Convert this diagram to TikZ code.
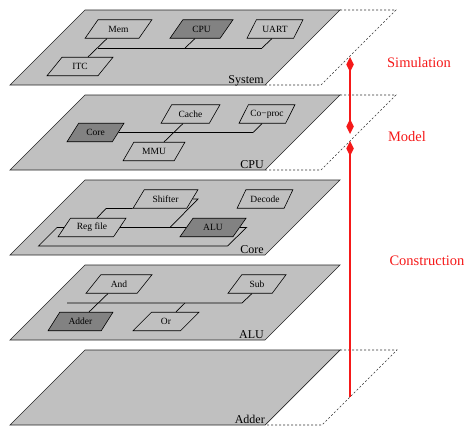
\documentclass[tikz,border=0pt]{standalone}
\usepackage{fontspec}
\setmainfont{Liberation Serif}
\usetikzlibrary{shapes.geometric,arrows.meta,calc}
\definecolor{planefill}{RGB}{192,192,192}
\definecolor{darkfill}{RGB}{130,130,130}
\definecolor{arrowred}{RGB}{245,25,25}
\newcommand{\compfont}{\fontsize{9.5}{11}\selectfont}
\tikzset{
  plane/.style={fill=planefill, draw=black!85, line width=0.7pt, line join=miter},
  ext/.style={draw=black!80, line width=0.6pt, dash pattern=on 2pt off 2pt},
  comp/.style={trapezium, trapezium left angle=45, trapezium right angle=135,
    trapezium stretches=true, draw=black, line width=0.6pt, inner sep=0pt,
    minimum height=18.5pt, font=\compfont},
  darkcomp/.style={comp, fill=darkfill},
  wire/.style={draw=black, line width=0.7pt},
  planelabel/.style={font=\fontsize{12}{14}\selectfont, inner sep=0pt, anchor=base east},
  redlabel/.style={font=\fontsize{14.5}{17}\selectfont, text=arrowred, inner sep=0pt, anchor=base},
  redarrow/.style={draw=arrowred, line width=1.8pt},
}
\begin{document}
\begin{tikzpicture}[x=1pt,y=-1pt]
\useasboundingbox (0,0) rectangle (469,439);
% ---------- planes ----------
\filldraw[plane] (85,10) -- (340,10) -- (265,85) -- (10,85) -- cycle;
\filldraw[plane] (85,95) -- (340,95) -- (265,170) -- (10,170) -- cycle;
\filldraw[plane] (85,180) -- (340,180) -- (265,255) -- (10,255) -- cycle;
\filldraw[plane] (85,265) -- (340,265) -- (265,340) -- (10,340) -- cycle;
\filldraw[plane] (85,350) -- (340,350) -- (265,425) -- (10,425) -- cycle;
% dashed extensions
\draw[ext] (340,10) -- (396,10) -- (321,85) -- (265,85);
\draw[ext] (340,95) -- (396,95) -- (321,170) -- (265,170);
\draw[ext] (340,350) -- (397,350) -- (322,425) -- (265,425);
% plane labels
\node[planelabel] (lsys) at (264,83.5) {System};
\node[planelabel] (lcpu) at (264,168.5) {CPU};
\node[planelabel] (lcore) at (264,253.5) {Core};
\node[planelabel] (lalu) at (264,338.5) {ALU};
\node[planelabel] (ladder) at (265,423.5) {Adder};
% ---------- System ----------
\node[comp, minimum width=67pt] (mem) at (118.5,29) {Mem};
\node[darkcomp, minimum width=63pt] (cpu) at (201.5,29) {CPU};
\node[comp, minimum width=56pt] (uart) at (275,29) {UART};
\node[comp, minimum width=66pt] (itc) at (80,66.5) {ITC};
\coordinate (sysL) at (97.5,48);
\coordinate (sysR) at (262,48);
\coordinate (sysC) at (185,48);
\draw[wire] (sysL) -- (sysR);
\draw[wire] ([xshift=-11.5pt]mem.south) -- ([xshift=8pt]itc.north);
\draw[wire] ([xshift=-6.5pt]cpu.south) -- (sysC);
\draw[wire] ([xshift=-3pt]uart.south) -- (sysR);
% ---------- CPU ----------
\node[darkcomp, minimum width=57pt] (core) at (95.5,132.5) {Core};
\node[comp, minimum width=59pt] (cache) at (190.5,114) {Cache};
\node[comp, minimum width=56pt] (coproc) at (267,114) {Co−proc};
\node[comp, minimum width=62pt] (mmu) at (154,151.5) {MMU};
\coordinate (cpuR) at (253,132.5);
\draw[wire] (core.east) -- (cpuR) -- ([xshift=-5pt]coproc.south);
\draw[wire] ([xshift=-7.5pt]cache.south) -- ([xshift=10pt]mmu.north);
% ---------- Core ----------
\node[comp, minimum width=65pt] (shifter) at (165.5,199) {Shifter};
\node[comp, minimum width=56pt] (decode) at (265,199) {Decode};
\node[comp, minimum width=68pt] (regfile) at (92,227.5) {Reg file};
\node[darkcomp, minimum width=66pt] (alu) at (213,227.5) {ALU};
\coordinate (c1) at (106,208.5);
\coordinate (c2) at (198,199);
\coordinate (c3) at (170,227.5);
\coordinate (l1) at (246.5,227.5);
\coordinate (l2) at (227.5,246);
\coordinate (l3) at (38.5,246);
\coordinate (l4) at (57,227.5);
\draw[wire] ([xshift=5pt]regfile.north) -- (c1) -- (shifter.bottom left corner);
\draw[wire] (shifter.east) -- (c2) -- (c3);
\draw[wire] (regfile.east) -- (alu.west);
\draw[wire] (alu.east) -- (l1) -- (l2) -- (l3) -- (l4) -- (regfile.west);
% ---------- ALU ----------
\node[comp, minimum width=66pt] (and) at (119,284) {And};
\node[comp, minimum width=58pt] (sub) at (257,284) {Sub};
\node[darkcomp, minimum width=65pt] (adder) at (80.5,321.5) {Adder};
\node[comp, minimum width=66pt] (or) at (166,321.5) {Or};
\coordinate (aluL) at (67,303);
\coordinate (aluR) at (242,303);
\coordinate (aluC) at (185,303);
\draw[wire] (aluL) -- (aluR) -- ([xshift=-5pt]sub.south);
\draw[wire] ([xshift=-11pt]and.south) -- ([xshift=8.5pt]adder.north);
\draw[wire] (aluC) -- ([xshift=10pt]or.north);
% ---------- red arrows ----------
\coordinate (a0) at (350,397);
\coordinate (a1) at (350,141);
\coordinate (a2) at (350,134);
\coordinate (a3) at (350,57);
\draw[redarrow, -{Diamond[length=15pt,width=7.5pt]}] (a0) -- (a1);
\draw[redarrow, {Diamond[length=15pt,width=7.5pt]}-{Diamond[length=15pt,width=7.5pt]}] (a2) -- (a3);
\node[redlabel] (tsim) at (419,67) {Simulation};
\node[redlabel] (tmod) at (407,141.5) {Model};
\node[redlabel] (tcon) at (427,265) {Construction};
\end{tikzpicture}
\end{document}
